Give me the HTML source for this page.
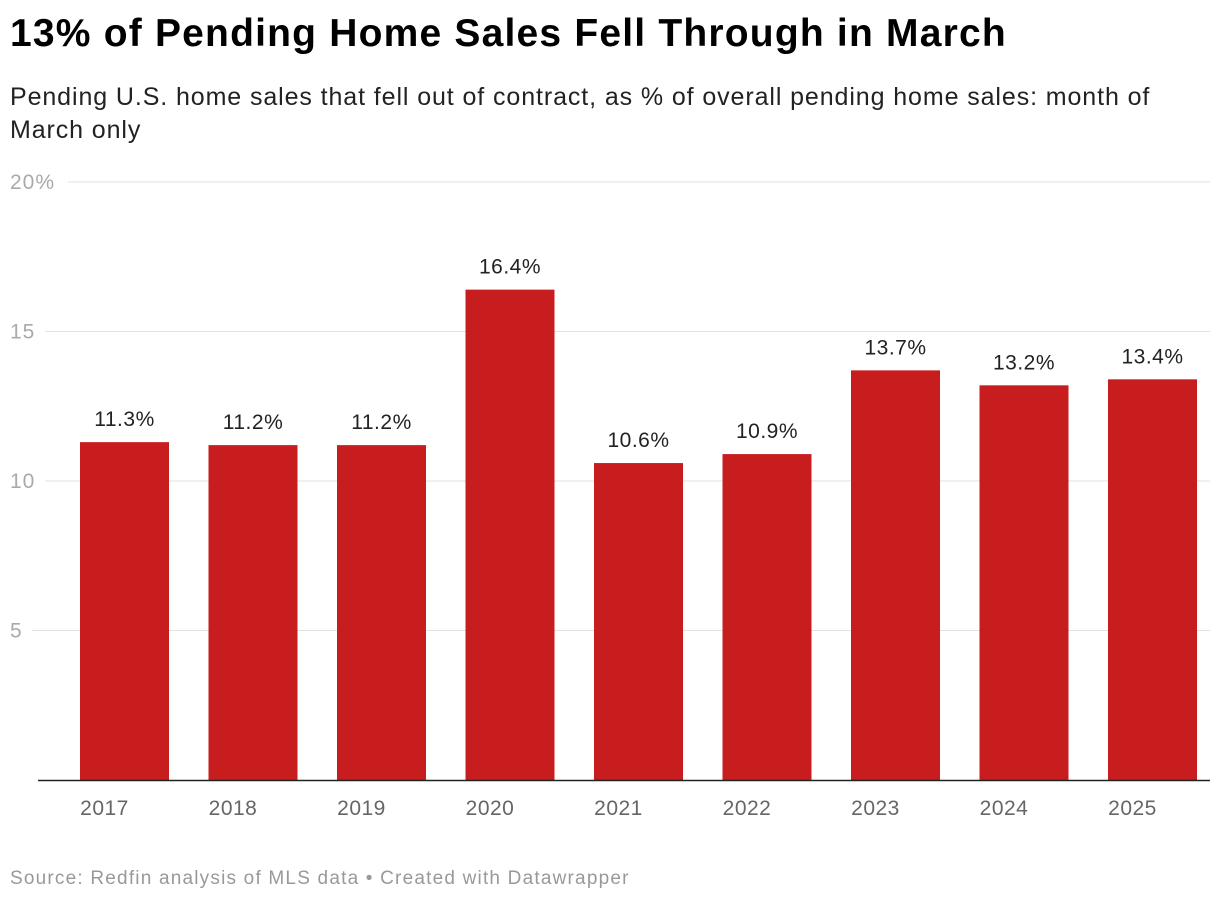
<!DOCTYPE html>
<html><head><meta charset="utf-8"><style>
body{margin:0;background:#fff;font-family:"Liberation Sans",Arial,sans-serif;}
#w{position:relative;width:1220px;height:904px;overflow:hidden}
h1{position:absolute;left:10px;top:12px;margin:0;font-size:39px;font-weight:bold;color:#000;letter-spacing:1.2px}
.sub{position:absolute;left:10px;top:81px;width:1195px;font-size:25px;line-height:33px;color:#222;letter-spacing:0.9px}
.foot{position:absolute;left:10px;top:868px;font-size:19px;color:#999;letter-spacing:1.2px}
svg{position:absolute;left:0;top:0}
</style></head><body><div id="w">
<h1>13% of Pending Home Sales Fell Through in March</h1>
<div class="sub">Pending U.S. home sales that fell out of contract, as % of overall pending home sales: month of March only</div>
<svg id="s" width="1220" height="904"></svg>
<div class="foot">Source: Redfin analysis of MLS data • Created with Datawrapper</div>
</div>
<script>
const years=["2017","2018","2019","2020","2021","2022","2023","2024","2025"];
const values=[11.3,11.2,11.2,16.4,10.6,10.9,13.7,13.2,13.4];
const yTicks=[0,5,10,15,20];
const yTickLabels=["","5","10","15","20%"];
const ns="http://www.w3.org/2000/svg",s=document.getElementById("s");
const y=v=>780-v*29.9, x=i=>80+i*128.5, bw=89;
function mk(t,a,txt){const e=document.createElementNS(ns,t);for(const k in a)e.setAttribute(k,a[k]);if(txt!=null)e.textContent=txt;s.appendChild(e);return e;}
yTicks.forEach((t,i)=>{
 if(t>0){const l=mk("line",{x1:yTickLabels[i].length>2?68:(yTickLabels[i].length>1?45:32),x2:1210,y1:y(t),y2:y(t),stroke:"#e2e2e2","stroke-width":1});
 
 const tx=mk("text",{x:10,y:y(t)+7,"font-size":21,fill:"#aaa","letter-spacing":1},yTickLabels[i]);
 }
});
values.forEach((v,i)=>{
 const r=mk("rect",{x:x(i),y:y(v),width:bw,height:780-y(v),fill:"#c81d1e"});
 
 const lb=mk("text",{x:x(i)+bw/2,y:y(v)-16,"font-size":21,fill:"#222","text-anchor":"middle","letter-spacing":0.5},v.toFixed(1)+"%");
 
 const yl=mk("text",{x:x(i)+bw/2-20,y:815,"font-size":21,fill:"#666","text-anchor":"middle","letter-spacing":0.5},years[i]);
 
});
const ax=mk("line",{x1:38,x2:1210,y1:780.5,y2:780.5,stroke:"#222","stroke-width":1.5});

</script></body></html>
